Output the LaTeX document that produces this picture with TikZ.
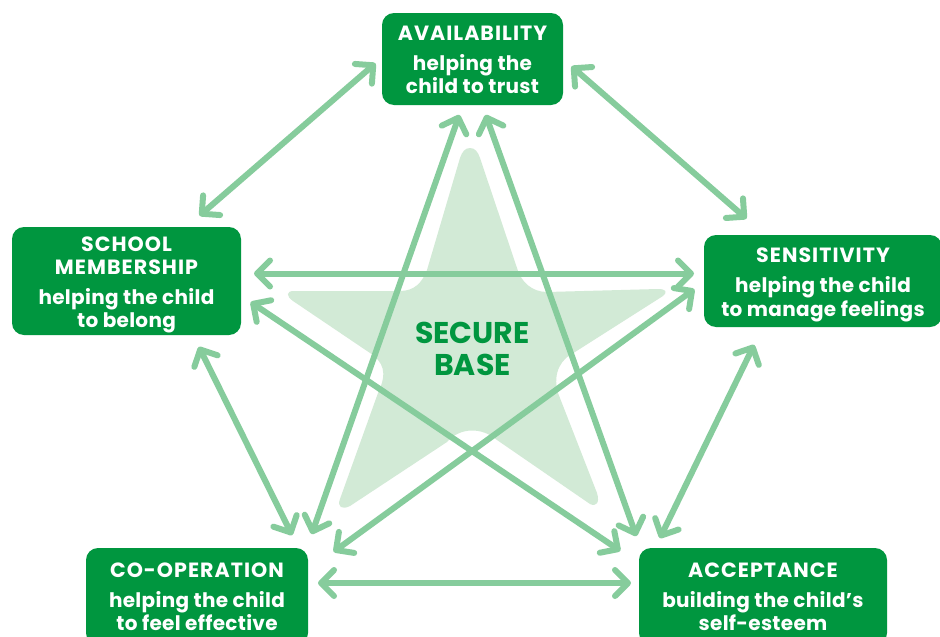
\documentclass[tikz,border=0pt]{standalone}
\usepackage{fontspec}
\setmainfont{Poppins}[BoldFont=* Bold]
\usetikzlibrary{arrows.meta}
\definecolor{boxgreen}{HTML}{00963F}
\definecolor{linkgreen}{HTML}{86CC9C}
\definecolor{stargreen}{HTML}{D2EAD6}
\newcommand{\cardhead}[2][16pt]{\rule{0pt}{#1}{\addfontfeatures{LetterSpace=5}\fontsize{20.6}{23}\selectfont #2}}
\tikzset{
  card/.style={fill=boxgreen,rounded corners=12pt,inner sep=0pt,text=white,align=center,font=\bfseries\addfontfeatures{LetterSpace=1.5}\fontsize{20}{23}\selectfont},
  link/.style={draw=linkgreen,line width=6pt,line cap=round,{Straight Barb[length=13pt,width=26pt,round,line width=6pt]}-{Straight Barb[length=13pt,width=26pt,round,line width=6pt]},shorten <=2pt,shorten >=2pt},
  startext/.style={text=boxgreen,inner sep=0pt,align=center,font=\bfseries\fontsize{30}{32}\selectfont}
}
\begin{document}
\begin{tikzpicture}[x=1pt,y=-1pt]
\clip (0,0) rectangle (940,637);
\fill[white] (0,0) rectangle (940,637);
% star
\fill[stargreen] (470,148) .. controls (475,148) and (478,152) .. (480,158)
 -- (517,268) .. controls (521,282) and (532,292) .. (547,292)
 -- (658,289) .. controls (666,289) and (668,292) .. (663,296)
 -- (575,352) .. controls (562,358) and (552,372) .. (558,393)
 -- (597,493) .. controls (600,503) and (596,507) .. (590,504)
 -- (497,440) .. controls (482,427) and (460,427) .. (447,442)
 -- (350,506) .. controls (342,510) and (337,507) .. (340,499)
 -- (378,393) .. controls (388,372) and (383,362) .. (370,353)
 -- (293,301) .. controls (286,296) and (286,291) .. (294,291)
 -- (400,291) .. controls (414,291) and (422,283) .. (427,270)
 -- (460,158) .. controls (462,152) and (465,148) .. (470,148) -- cycle;
\node[startext] (base) at (472.5,349) {SECURE\\BASE};
% boxes
\node[card,minimum width=181pt,minimum height=92pt] (avail) at (472.5,59) {\cardhead[17pt]{AVAILABILITY}\\[7pt]helping the\\child to trust};
\node[card,minimum width=229pt,minimum height=108pt] (school) at (126.5,281) {\cardhead[23pt]{SCHOOL}\\\cardhead{MEMBERSHIP}\\[7pt]helping the child\\to belong};
\node[card,minimum width=238pt,minimum height=92pt] (sens) at (823,281) {\cardhead[23pt]{SENSITIVITY}\\[7pt]helping the child\\[1pt]to manage feelings};
\node[card,minimum width=222pt,minimum height=97pt] (coop) at (197,596.5) {\cardhead{CO-OPERATION}\\[7pt]helping the child\\to feel effective};
\node[card,minimum width=248pt,minimum height=97pt] (accept) at (763,596.5) {\cardhead{ACCEPTANCE}\\[7pt]building the child’s\\self-esteem};
% connectors
\draw[link] ([shift={(-95.5,3)}]avail.center) -- ([shift={(71.5,-64)}]school.center);
\draw[link] ([shift={(97.5,6)}]avail.center) -- ([shift={(-75,-61)}]sens.center);
\draw[link] ([shift={(125.5,-7.5)}]school.center) -- ([shift={(-127,-7.5)}]sens.center);
\draw[link] ([shift={(122.5,20)}]school.center) -- ([shift={(-141,-44.5)}]accept.center);
\draw[link] ([shift={(-127,7)}]sens.center) -- ([shift={(135,-43.5)}]coop.center);
\draw[link] ([shift={(-12.5,54)}]avail.center) -- ([shift={(114,-60.5)}]coop.center);
\draw[link] ([shift={(12.5,54)}]avail.center) -- ([shift={(-126,-58.5)}]accept.center);
\draw[link] ([shift={(71.5,64)}]school.center) -- ([shift={(96,-59.5)}]coop.center);
\draw[link] ([shift={(-68,62)}]sens.center) -- ([shift={(-104,-56.5)}]accept.center);
\draw[link] ([shift={(119,-13.5)}]coop.center) -- ([shift={(-130,-13.5)}]accept.center);
\end{tikzpicture}
\end{document}
